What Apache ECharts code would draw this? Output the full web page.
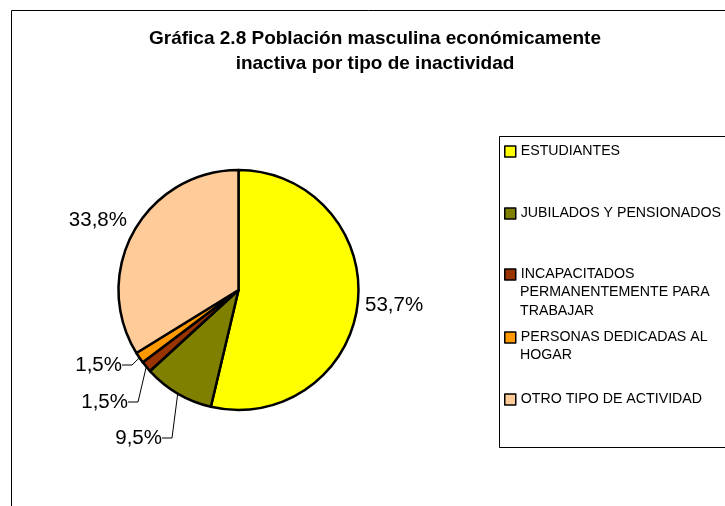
<!DOCTYPE html>
<html>
<head>
<meta charset="utf-8">
<script src="https://cdn.jsdelivr.net/npm/echarts@6/dist/echarts.min.js"></script>
<style>
  html, body { margin: 0; padding: 0; background: #fff; }
  #main { width: 725px; height: 506px; }
</style>
</head>
<body>
<div id="main"></div>
<script>
// datos de la gráfica
var categorias = ['ESTUDIANTES', 'JUBILADOS Y PENSIONADOS', 'INCAPACITADOS PERMANENTEMENTE PARA TRABAJAR', 'PERSONAS DEDICADAS AL HOGAR', 'OTRO TIPO DE ACTIVIDAD'];
var porcentajes = [53.7, 9.5, 1.5, 1.5, 33.8];
var leyendaLineas = [['ESTUDIANTES'], ['JUBILADOS Y PENSIONADOS'], ['INCAPACITADOS', 'PERMANENTEMENTE PARA', 'TRABAJAR'], ['PERSONAS DEDICADAS AL', 'HOGAR'], ['OTRO TIPO DE ACTIVIDAD']];
var colores = ['#FFFF00', '#808000', '#993300', '#FF9900', '#FFCC99'];

// posiciones de etiquetas y leyenda
var posEtiqueta = [[365, 305, 'left'], [162, 438, 'right'], [128, 402, 'right'], [122, 365, 'right'], [127, 220, 'right']];
var conLinea = [false, true, true, true, false];
var leyendaY = [150, 212, 273, 336, 398];
var FUENTE = '"Liberation Sans", Arial, sans-serif';

var myChart = echarts.init(document.getElementById('main'));

var datos = categorias.map(function (c, i) {
    return {
        name: c,
        value: porcentajes[i],
        itemStyle: { color: colores[i] },
        labelLine: { show: conLinea[i] }
    };
});

// una leyenda por elemento (el icono va con la primera linea)
var leyendas = categorias.map(function (c, i) {
    return {
        data: [c],
        left: 504,
        top: leyendaY[i] - 5.5,
        padding: 0,
        orient: 'vertical',
        itemWidth: 11,
        itemHeight: 11,
        icon: 'rect',
        selectedMode: false,
        itemStyle: { borderColor: '#000', borderWidth: 1.5 },
        textStyle: { fontFamily: FUENTE, fontSize: 14.2, color: '#000' },
        formatter: function () { return leyendaLineas[i][0]; }
    };
});

var graficos = [
    { type: 'rect', shape: { x: 11.5, y: 10.5, width: 760, height: 520 }, style: { fill: 'none', stroke: '#000', lineWidth: 1 }, z: -1 },
    { type: 'rect', shape: { x: 499.5, y: 136.5, width: 260, height: 311 }, style: { fill: 'none', stroke: '#000', lineWidth: 1 }, z: -1 }
];
leyendaLineas.forEach(function (lineas, i) {
    for (var k = 1; k < lineas.length; k++) {
        graficos.push({
            type: 'text',
            style: { x: 520, y: leyendaY[i] + 19 * k, text: lineas[k], font: '14.2px ' + FUENTE, fill: '#000', verticalAlign: 'middle' }
        });
    }
});

var option = {
    animation: false,
    title: {
        text: 'Gráfica 2.8 Población masculina económicamente\ninactiva por tipo de inactividad',
        left: 375,
        top: 26,
        padding: 0,
        textAlign: 'center',
        textStyle: { fontFamily: FUENTE, fontSize: 19, fontWeight: 'bold', color: '#000', lineHeight: 25 }
    },
    legend: leyendas,
    graphic: graficos,
    series: [{
        type: 'pie',
        center: [238.5, 290],
        radius: 120,
        startAngle: 90,
        clockwise: true,
        avoidLabelOverlap: false,
        itemStyle: { borderColor: '#000', borderWidth: 2.5 },
        label: {
            show: true,
            position: 'outside',
            fontFamily: FUENTE,
            fontSize: 20.5,
            color: '#000',
            formatter: function (p) { return p.value.toFixed(1).replace('.', ',') + '%'; }
        },
        labelLine: { show: true, length: 10, length2: 10, lineStyle: { color: '#000', width: 1 } },
        labelLayout: function (p) {
            var q = posEtiqueta[p.dataIndex];
            return { x: q[0], y: q[1], align: q[2], verticalAlign: 'middle' };
        },
        emphasis: { disabled: true },
        data: datos
    }]
};
myChart.setOption(option);
</script>
</body>
</html>
